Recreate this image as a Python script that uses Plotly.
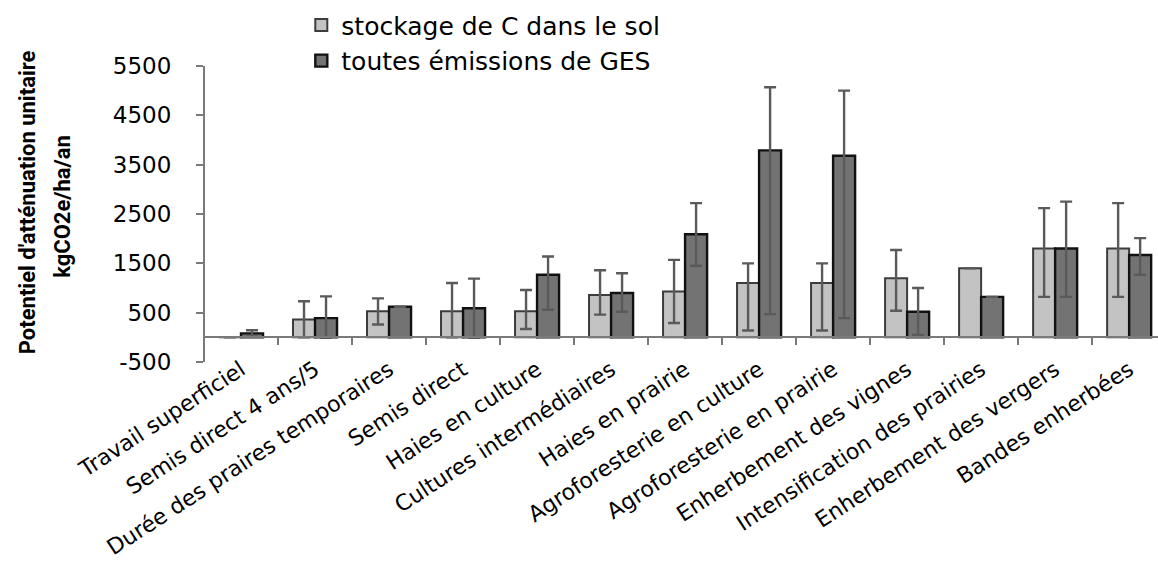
import plotly.graph_objects as go

# Mesures d'atténuation (axe des catégories)
categories = [
    "Travail superficiel",
    "Semis direct 4 ans/5",
    "Durée des praires temporaires",
    "Semis direct",
    "Haies en culture",
    "Cultures intermédiaires",
    "Haies en prairie",
    "Agroforesterie en culture",
    "Agroforesterie en prairie",
    "Enherbement des vignes",
    "Intensification des prairies",
    "Enherbement des vergers",
    "Bandes enherbées",
]

# Stockage de C dans le sol (kgCO2e/ha/an) et barres d'erreur (haut / bas)
stockage = [0, 360, 530, 530, 530, 860, 930, 1100, 1100, 1200, 1400, 1800, 1800]
stockage_err_plus = [0, 370, 260, 570, 430, 500, 640, 400, 400, 570, 0, 820, 920]
stockage_err_minus = [0, 360, 270, 530, 360, 400, 640, 960, 960, 660, 0, 980, 980]

# Toutes émissions de GES (kgCO2e/ha/an) et barres d'erreur (haut / bas)
emissions = [80, 390, 620, 590, 1270, 900, 2090, 3790, 3680, 520, 820, 1800, 1670]
emissions_err_plus = [65, 440, 0, 600, 370, 400, 630, 1280, 1320, 480, 0, 950, 340]
emissions_err_minus = [65, 400, 0, 600, 710, 380, 640, 3320, 3290, 470, 0, 980, 400]

y_tickvals = [-500, 500, 1500, 2500, 3500, 4500, 5500]

AXIS_GREY = "#7a7a7a"
ERR_GREY = "#5a5a5a"
FONT = "DejaVu Sans"

fig = go.Figure()

fig.add_trace(go.Bar(
    name="stockage de C dans le sol",
    x=categories,
    y=stockage,
    marker=dict(color="#c3c3c3", line=dict(color="#3c3c3c", width=2)),
    error_y=dict(type="data", symmetric=False, array=stockage_err_plus,
                 arrayminus=stockage_err_minus, color=ERR_GREY,
                 thickness=2.4, width=6),
))
fig.add_trace(go.Bar(
    name="toutes émissions de GES",
    x=categories,
    y=emissions,
    marker=dict(color="#737373", line=dict(color="#111111", width=2.4)),
    error_y=dict(type="data", symmetric=False, array=emissions_err_plus,
                 arrayminus=emissions_err_minus, color=ERR_GREY,
                 thickness=2.4, width=6),
))

fig.update_layout(
    width=1158,
    height=567,
    margin=dict(l=204, r=0, t=66, b=205, autoexpand=False),
    paper_bgcolor="white",
    plot_bgcolor="white",
    barmode="group",
    bargap=0.405,
    bargroupgap=0,
    showlegend=True,
    legend=dict(
        x=0.102, y=1.215, xanchor="left", yanchor="top",
        font=dict(family=FONT, size=25, color="black"),
        bgcolor="rgba(0,0,0,0)",
        itemwidth=30,
    ),
    xaxis=dict(
        type="category",
        range=[-0.5, 12.39],
        anchor="free",
        position=500 / 6000,
        automargin=False,
        showline=True, linecolor=AXIS_GREY, linewidth=2,
        ticks="outside", tickson="boundaries", ticklen=7,
        tickwidth=2, tickcolor=AXIS_GREY,
        tickangle=-33,
        tickfont=dict(family=FONT, size=22, color="black"),
        ticklabelstandoff=10,
        ticklabelshift=0,
        showgrid=False, zeroline=False,
    ),
    yaxis=dict(
        range=[-500, 5500],
        anchor="free",
        position=0,
        automargin=False,
        tickmode="array",
        tickvals=y_tickvals,
        ticktext=[str(v) for v in y_tickvals],
        showline=True, linecolor=AXIS_GREY, linewidth=2,
        ticks="outside", ticklen=7, tickwidth=2, tickcolor=AXIS_GREY,
        tickfont=dict(family=FONT, size=23, color="black"),
        ticklabelstandoff=20,
        showgrid=False, zeroline=False,
    ),
    annotations=[
        dict(text="Potentiel d'atténuation unitaire", textangle=-90,
             xref="paper", yref="paper", x=-0.1855, y=0.54,
             xanchor="center", yanchor="middle", showarrow=False,
             font=dict(family="Roboto", size=22, color="black", weight="bold")),
        dict(text="kgCO2e/ha/an", textangle=-90,
             xref="paper", yref="paper", x=-0.149, y=0.527,
             xanchor="center", yanchor="middle", showarrow=False,
             font=dict(family="Roboto", size=22, color="black", weight="bold")),
    ],
)

fig.write_html("out.html")
